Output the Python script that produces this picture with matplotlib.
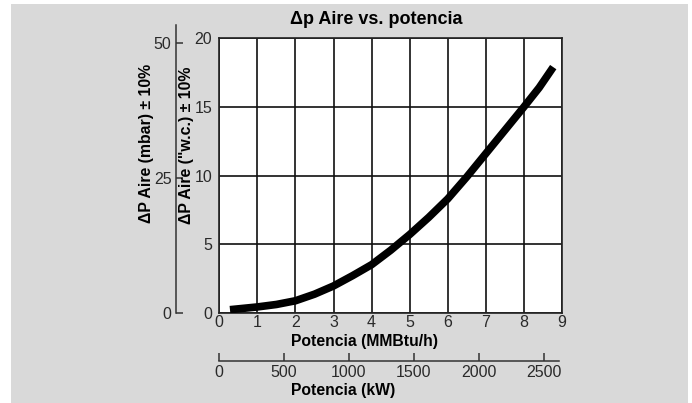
import matplotlib
matplotlib.use("Agg")
import matplotlib.pyplot as plt
from matplotlib.patches import Rectangle

plt.rcParams['font.family'] = ['Liberation Sans', 'DejaVu Sans']

# curva
potencia = [0.28, 1, 1.5, 2, 2.5, 3, 3.5, 4, 4.5, 5, 5.5, 6, 6.5, 7, 7.5, 8, 8.4, 8.77]
dp_wc = [0.22, 0.42, 0.6, 0.87, 1.35, 1.95, 2.7, 3.5, 4.55, 5.7, 6.95, 8.3, 9.9, 11.6, 13.3, 15.0, 16.4, 17.9]

xticks = [0, 1, 2, 3, 4, 5, 6, 7, 8, 9]
yticks = [0, 5, 10, 15, 20]
mbar_ticks = [0, 25, 50]
kw_ticks = [0, 500, 1000, 1500, 2000, 2500]

W, H = 692, 403
fig = plt.figure(figsize=(W / 100, H / 100), dpi=100)
fig.patch.set_facecolor('white')
fig.patches.append(Rectangle((11 / W, 0), 677 / W, 399 / H, transform=fig.transFigure,
                             facecolor='#d9d9d9', edgecolor='none', zorder=-10))

tick_col = '#2a2a2a'

# eje principal
ax = fig.add_axes([219.3 / W, (H - 312.7) / H, 342.7 / W, 274.4 / H])
ax.set_facecolor('white')
ax.plot(potencia, dp_wc, color='black', lw=5.5, solid_capstyle='butt', zorder=5)
ax.set_xlim(0, 9)
ax.set_ylim(0, 20)
ax.set_xticks(xticks)
ax.set_yticks(yticks)
ax.grid(True, color='#111111', lw=1.2)
ax.tick_params(length=0, labelsize=11.5, labelcolor=tick_col)
ax.tick_params(axis='x', pad=2)
ax.tick_params(axis='y', pad=5)
for s in ax.spines.values():
    s.set_color('#222222')
    s.set_linewidth(1.2)

# eje mbar
ax2 = fig.add_axes([175.7 / W, (H - 312.7) / H, 0.001, 287.7 / H])
ax2.patch.set_visible(False)
ax2.set_ylim(0, 53.3)
ax2.set_yticks(mbar_ticks)
ax2.set_xticks([])
for k in ['top', 'right', 'bottom']:
    ax2.spines[k].set_visible(False)
ax2.spines['left'].set_color('#333333')
ax2.spines['left'].set_linewidth(1.1)
ax2.tick_params(axis='y', direction='in', length=5, width=1.1, color='#333333',
                labelsize=11.5, labelcolor=tick_col, pad=3)

# eje kW
ax3 = fig.add_axes([219 / W, (H - 360.7) / H, 339.7 / W, 0.001])
ax3.patch.set_visible(False)
ax3.set_xlim(0, 2615)
ax3.set_xticks(kw_ticks)
ax3.set_yticks([])
for k in ['top', 'right', 'left']:
    ax3.spines[k].set_visible(False)
ax3.spines['bottom'].set_color('#333333')
ax3.spines['bottom'].set_linewidth(1.1)
ax3.tick_params(axis='x', direction='in', length=6, width=1.1, color='#333333',
                labelsize=11.5, labelcolor=tick_col, pad=3)

# textos
fig.text(376 / W, (H - 20) / H, 'Δp Aire vs. potencia', ha='center', va='center',
         fontsize=13, fontweight='bold')
fig.text(290.7 / W, (H - 341.5) / H, 'Potencia (MMBtu/h)', ha='left', va='center',
         fontsize=11.3, fontweight='bold')
fig.text(290.7 / W, (H - 390) / H, 'Potencia (kW)', ha='left', va='center',
         fontsize=11.3, fontweight='bold')
fig.text(147 / W, (H - 143.4) / H, 'ΔP Aire (mbar) ± 10%', rotation=90, ha='center',
         va='center', fontsize=11.4, fontweight='bold')
fig.text(187 / W, (H - 145.8) / H, 'ΔP Aire ("w.c.) ± 10%', rotation=90, ha='center',
         va='center', fontsize=11.4, fontweight='bold')

fig.savefig('out.png', dpi=100, facecolor=fig.get_facecolor())
